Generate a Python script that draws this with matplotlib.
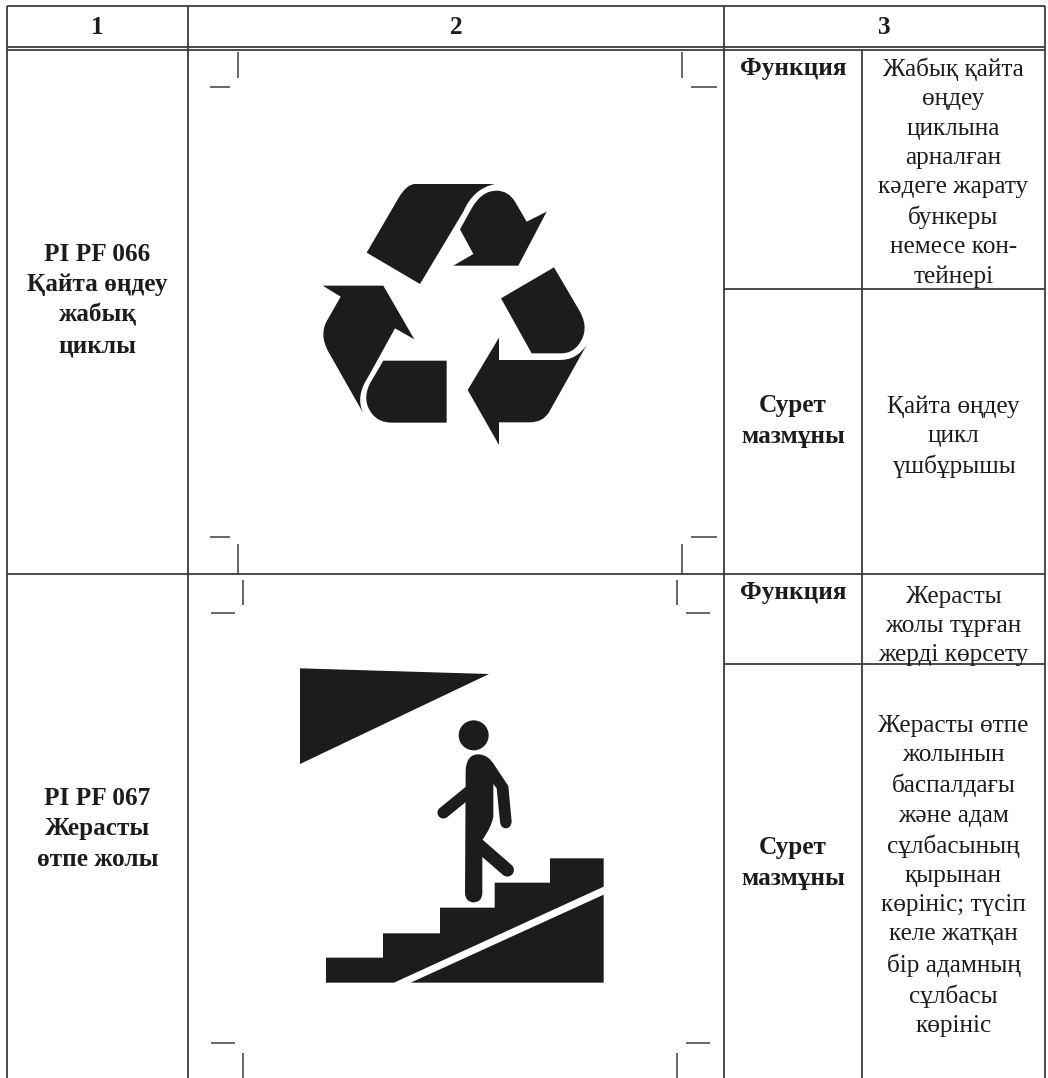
#!/usr/bin/env python3
"""Kazakh pictogram table: PI PF 066 and PI PF 067."""

import matplotlib
matplotlib.use('Agg')
import matplotlib.pyplot as plt
from matplotlib.patches import Circle, PathPatch, Polygon
from matplotlib.path import Path

plt.rcParams['font.family'] = ['Liberation Serif', 'DejaVu Serif']

INK = '#1c1c1c'
RULE = '#3c3c3c'

# Text content
header_labels = ['1', '2', '3']
row_names = ['PI PF 066\nҚайта өңдеу\nжабық\nциклы', 'PI PF 067\nЖерасты\nөтпе жолы']
left_labels = ['Функция', 'Сурет\nмазмұны', 'Функция', 'Сурет\nмазмұны']
right_labels = [
    'Жабық қайта\nөңдеу\nциклына\nарналған\nкәдеге жарату\nбункеры\nнемесе кон-\nтейнері',
    'Қайта өңдеу\nцикл\nүшбұрышы',
    'Жерасты\nжолы тұрған\nжерді көрсету',
    'Жерасты өтпе\nжолынын\nбаспалдағы\nжәне адам\nсұлбасының\nқырынан\nкөрініс; түсіп\nкеле жатқан\nбір адамның\nсұлбасы\nкөрініс',
]

# Grid positions in page pixels
col_x = [7, 188, 724, 862, 1045]
header_y = [6, 47, 50]
row_y = [50, 574, 1078]
sub_y = [289, 664]

# Text centres in page pixels
row_name_y = [300, 829]
left_label_y = [68, 421, 593, 863]
right_label_y = [173, 437, 626, 876]

# Icon outlines, in zoomed crop pixels: 'L' straight, 'Q' quadratic pieces
recycle_shapes = [
    [(200, 248), (295, 85), ('Q', 320, 42, 345, 42), (585, 42), ('Q', 520, 55, 490, 125), (360, 342)],
    [(480, 178), (515, 115), ('Q', 545, 62, 590, 62), ('Q', 625, 62, 645, 95), (680, 155), (740, 125),
     (655, 287), (460, 287), (520, 252)],
    [(603, 385), (762, 292), (840, 425), ('Q', 870, 480, 835, 525), ('Q', 815, 550, 785, 550), (695, 550)],
    [(860, 525), ('Q', 830, 570, 780, 570), (597, 570), (597, 503), (503, 660), (597, 825), (597, 757),
     (690, 757), ('Q', 730, 757, 748, 725)],
    [(68, 347), (250, 347), (343, 508), (285, 475), (205, 620), ('Q', 165, 680, 190, 730), (85, 545),
     ('Q', 55, 490, 85, 445), (122, 380)],
    [(440, 572), (250, 572), (210, 640), ('Q', 185, 690, 215, 730), ('Q', 235, 758, 275, 758), (440, 758)],
]
recycle_origin = (300, 170)

stairs_origin = (290, 660)
shade_pts = [(30, 25), (597, 42), (30, 312)]
stairs_pts = [(108, 968), (108, 893), (279, 893), (279, 820), (450, 820), (450, 743), (614, 743), (614, 668),
              (780, 668), (780, 595), (941, 595), (941, 680), (312, 968)]
ramp_pts = [(362, 968), (941, 704), (941, 968)]
body_pts = [(527, 330), ('Q', 530, 283, 565, 283), ('Q', 595, 283, 615, 318), (655, 378), (665, 485),
            ('Q', 662, 505, 648, 505), ('Q', 632, 505, 630, 485), (620, 385), (610, 372), (610, 470),
            ('Q', 605, 500, 577, 540), (577, 700), ('Q', 575, 727, 551, 727), ('Q', 527, 727, 525, 700)]
arm_pts = [(535, 397), (460, 458)]
leg_pts = [(560, 550), (652, 630)]

# Crop marks per icon: left vertical x, right vertical x, the two horizontal spans,
# top vertical span, bottom vertical span, the two horizontal heights
crop_marks = [
    dict(vl=238, vr=682, hl=(210, 230), hr=(691, 717), top=(52, 78), bot=(544, 574), h=(87, 537)),
    dict(vl=243, vr=677, hl=(211, 235), hr=(686, 710), top=(580, 605), bot=(1053, 1078), h=(613, 1043)),
]


def to_page(pt, origin):
    return (origin[0] + pt[0] / 3, origin[1] + pt[1] / 3)


def outline(points, origin):
    """Build a closed path from the outline lists."""
    verts, codes = [], []
    for i, p in enumerate(points):
        if p[0] == 'Q':
            verts += [to_page(p[1:3], origin), to_page(p[3:5], origin)]
            codes += [Path.CURVE3, Path.CURVE3]
        else:
            verts.append(to_page(p, origin))
            codes.append(Path.MOVETO if i == 0 else Path.LINETO)
    verts.append(verts[0])
    codes.append(Path.CLOSEPOLY)
    return Path(verts, codes)


def draw_grid(ax):
    kw = dict(color=RULE, linewidth=1.3, solid_capstyle='butt')
    for y in (header_y[0], header_y[1], header_y[2], row_y[1]):
        ax.plot([col_x[0], col_x[-1]], [y, y], **kw)
    for x in (col_x[0], col_x[1], col_x[2], col_x[4]):
        ax.plot([x, x], [header_y[0], 1078], **kw)
    ax.plot([col_x[3], col_x[3]], [header_y[2], 1078], **kw)
    for y in sub_y:
        ax.plot([col_x[2], col_x[4]], [y, y], **kw)


def draw_crop_marks(ax):
    kw = dict(color=RULE, linewidth=1.1, solid_capstyle='butt')
    for m in crop_marks:
        for y in m['h']:
            ax.plot(m['hl'], [y, y], **kw)
            ax.plot(m['hr'], [y, y], **kw)
        for x in (m['vl'], m['vr']):
            ax.plot([x, x], m['top'], **kw)
            ax.plot([x, x], m['bot'], **kw)


def draw_text(ax):
    kw = dict(ha='center', va='center', color=INK, fontsize=18.2, linespacing=1.42)
    col_mid = [(col_x[0] + col_x[1]) / 2, (col_x[1] + col_x[2]) / 2, (col_x[2] + col_x[4]) / 2]
    for x, label in zip(col_mid, header_labels):
        ax.text(x, 28, label, fontweight='bold', **kw)

    for y, label in zip(row_name_y, row_names):
        ax.text(col_mid[0], y, label, fontweight='bold', **kw)

    left_x = (col_x[2] + col_x[3]) / 2
    right_x = (col_x[3] + col_x[4]) / 2
    for y, label in zip(left_label_y, left_labels):
        ax.text(left_x, y, label, fontweight='bold', **kw)
    for y, label in zip(right_label_y, right_labels):
        ax.text(right_x, y, label, **kw)


def draw_icons(ax):
    for shape in recycle_shapes:
        ax.add_patch(PathPatch(outline(shape, recycle_origin), facecolor=INK, edgecolor='none'))

    for pts in (shade_pts, stairs_pts, ramp_pts):
        ax.add_patch(Polygon([to_page(p, stairs_origin) for p in pts], facecolor=INK, edgecolor='none'))
    ax.add_patch(PathPatch(outline(body_pts, stairs_origin), facecolor=INK, edgecolor='none'))
    ax.add_patch(Circle(to_page((551, 226), stairs_origin), 15, facecolor=INK, edgecolor='none'))
    for pts, width in ((arm_pts, 8.5), (leg_pts, 9.5)):
        xs, ys = zip(*[to_page(p, stairs_origin) for p in pts])
        ax.plot(xs, ys, color=INK, linewidth=width, solid_capstyle='round')


def main():
    fig = plt.figure(figsize=(10.48, 10.78), dpi=100, facecolor='white')
    ax = fig.add_axes([0, 0, 1, 1])
    ax.set_xlim(0, 1048)
    ax.set_ylim(1078, 0)
    ax.axis('off')

    draw_grid(ax)
    draw_crop_marks(ax)
    draw_icons(ax)
    draw_text(ax)

    fig.savefig('out.png', dpi=100, facecolor='white')
    plt.close(fig)


if __name__ == "__main__":
    main()
